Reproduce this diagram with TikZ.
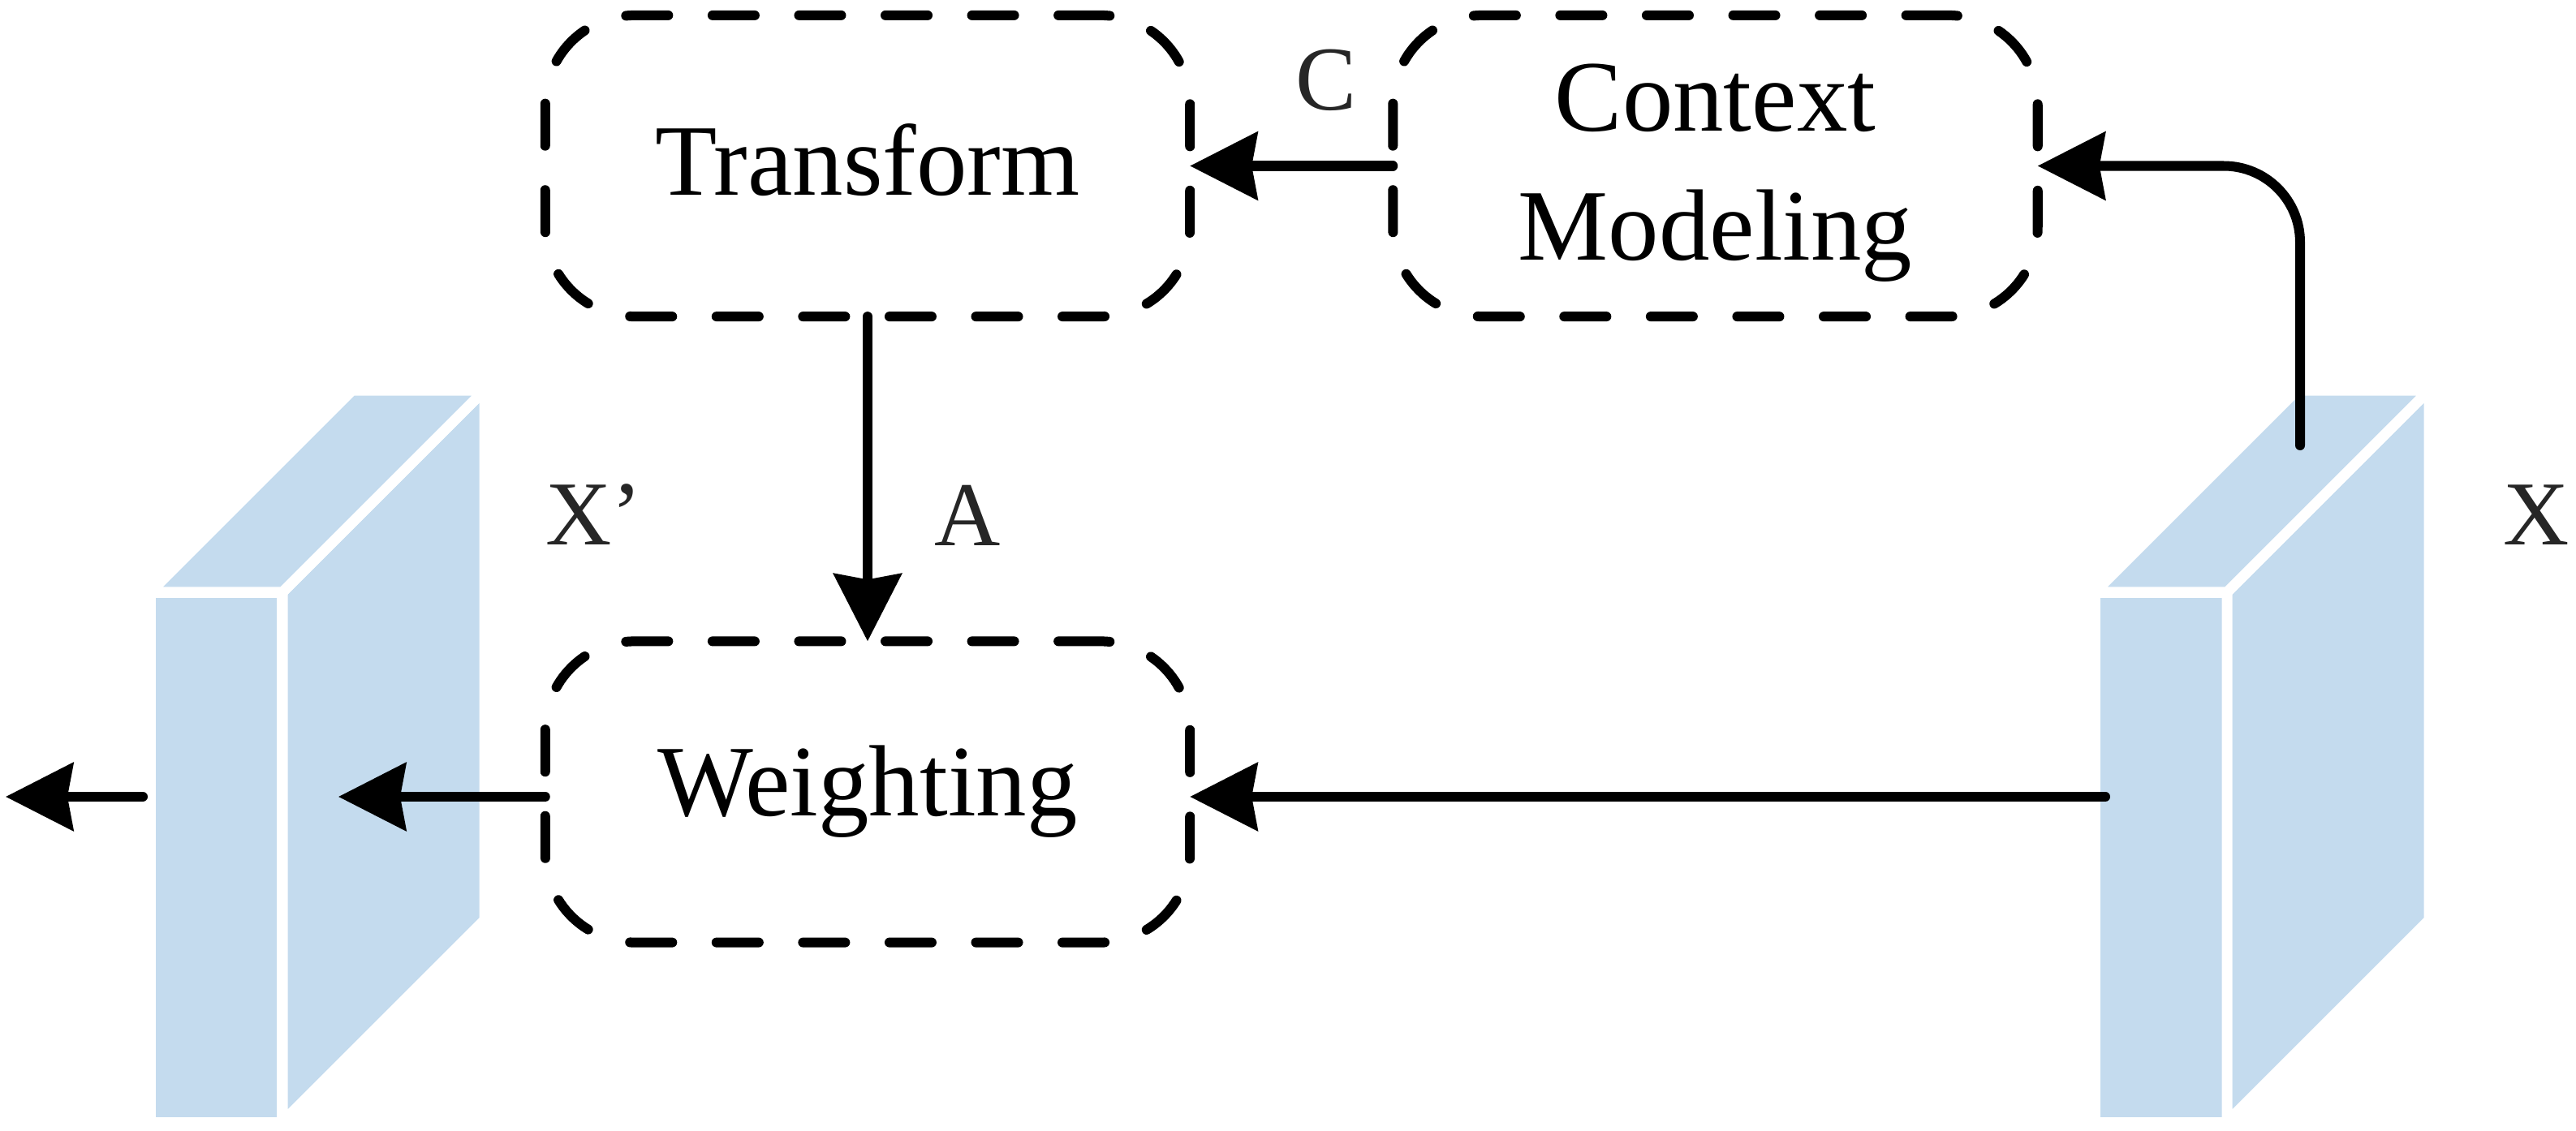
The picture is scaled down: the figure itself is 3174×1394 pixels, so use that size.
\documentclass[tikz,border=0pt]{standalone}
\usepackage{fontspec}
\setmainfont{Liberation Serif}
\usetikzlibrary{arrows.meta}
\definecolor{cubeblue}{RGB}{196,219,238}
\definecolor{labelgray}{RGB}{38,38,38}
\begin{document}
\begin{tikzpicture}[x=0.01cm,y=-0.01cm,
  box/.style={draw=black, line width=0.12cm, dash pattern=on 0.52cm off 0.545cm, line cap=round,
    rounded corners=1.1cm, minimum width=7.94cm, minimum height=3.71cm, inner sep=0pt, outer sep=0pt,
    font=\fontsize{35.5pt}{45pt}\selectfont, align=center},
  conn/.style={line width=0.12cm, line cap=round, -{Stealth[length=0.83cm,width=0.83cm,inset=0.07cm]}},
  lbl/.style={text=labelgray, inner sep=0pt, font=\fontsize{32pt}{40pt}\selectfont},
  face/.style={fill=cubeblue, draw=white, line width=0.13cm, line join=bevel}]
\useasboundingbox (0,0) rectangle (3174,1394);

% left cube (X')
\filldraw[face] (185,730) rectangle (348,1383);
\filldraw[face] (348,730) -- (597,481) -- (597,1134) -- (348,1383) -- cycle;
\filldraw[face] (185,730) -- (434,481) -- (597,481) -- (348,730) -- cycle;

% right cube (X)
\filldraw[face] (2581,730) rectangle (2744,1383);
\filldraw[face] (2744,730) -- (2993,481) -- (2993,1134) -- (2744,1383) -- cycle;
\filldraw[face] (2581,730) -- (2830,481) -- (2993,481) -- (2744,730) -- cycle;

% boxes
\node[box, text depth=0.16cm] (tr) at (1069,204.5) {Transform};
\node[box] (cm) at (2113.5,204.5) {\rule{0pt}{1.0cm}Context\\Modeling};
\node[box] (wt) at (1069,976) {Weighting};

% free ends
\coordinate (xup) at (2834,549);
\coordinate (xin) at (2594,982);
\coordinate (xout) at (417,982);
\coordinate (lout) at (176,982);
\coordinate (lend) at (7,982);

% connectors
\draw[conn] (cm.west) -- (tr.east);
\draw[conn] (tr.south) -- (wt.north);
\draw[conn, rounded corners=0.94cm] (xup) |- (cm.east);
\draw[conn] (xin) -- (xin -| wt.east);
\draw[conn] (wt.west |- xin) -- (xout);
\draw[conn] (lout) -- (lend);

% labels
\node[lbl, anchor=base] (lc) at (1634,136) {C};
\node[lbl, anchor=base] (la) at (1192,672) {A};
\node[lbl, anchor=base west] (lxp) at (672,671) {X’};
\node[lbl, anchor=base] (lx) at (3125,671) {X};
\end{tikzpicture}
\end{document}
